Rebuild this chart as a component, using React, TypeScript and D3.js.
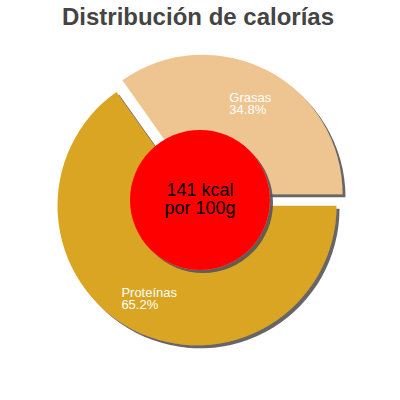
// calorie distribution pie, drawn with d3
import * as d3 from "d3";
import { useEffect, useRef } from "react";

const title = "Distribución de calorías";
const categories = ["Proteínas", "Grasas"];
const percents = [65.2, 34.8];
const colors = ["#DAA520", "#EEC591"];
const centerLines = ["141 kcal", "por 100g"];

export default function App() {
  const svgRef = useRef<SVGSVGElement>(null);

  useEffect(() => {
    document.body.style.margin = "0";
    const width = 400;
    const height = 400;
    const cx = 200;
    const cy = 200;
    const radius = 139.5;
    const explode = 6.5;
    const holeR = 70;
    const labelR = 103.5;

    const svg = d3.select(svgRef.current);
    svg.selectAll("*").remove();
    svg.attr("width", width).attr("height", height);

    // shadow filter
    const defs = svg.append("defs");
    defs
      .append("filter")
      .attr("id", "shadow")
      .attr("x", "-20%")
      .attr("y", "-20%")
      .attr("width", "140%")
      .attr("height", "140%")
      .append("feDropShadow")
      .attr("dx", 3)
      .attr("dy", 3)
      .attr("stdDeviation", 0.6)
      .attr("flood-color", "#555")
      .attr("flood-opacity", 0.9);

    // title
    svg
      .append("text")
      .attr("x", 198)
      .attr("y", 25)
      .attr("text-anchor", "middle")
      .style("font-family", "'Liberation Sans', Arial, sans-serif")
      .style("font-weight", "bold")
      .style("font-size", "24px")
      .style("fill", "#444")
      .text(title);

    // slices start at 3 o'clock and run counterclockwise
    const pie = d3
      .pie<number>()
      .sort(null)
      .startAngle(Math.PI / 2)
      .endAngle(Math.PI / 2 + 2 * Math.PI);
    const arcs = pie(percents);
    const arc = d3.arc<d3.PieArcDatum<number>>().innerRadius(0).outerRadius(radius);
    const labelArc = d3
      .arc<d3.PieArcDatum<number>>()
      .innerRadius(labelR)
      .outerRadius(labelR);

    const g = svg.append("g").attr("transform", `translate(${cx},${cy})`);

    const slices = g
      .selectAll("g.slice")
      .data(arcs)
      .enter()
      .append("g")
      .attr("class", "slice")
      .attr("transform", (d) => {
        const mid = (d.startAngle + d.endAngle) / 2;
        return `translate(${Math.sin(mid) * explode},${-Math.cos(mid) * explode})`;
      });

    slices
      .append("path")
      .attr("d", (d) => arc(d) as string)
      .style("fill", (d, i) => colors[i])
      .attr("filter", "url(#shadow)");

    // labels: left aligned block centred on the label point
    slices.each(function (d, i) {
      const [lx, ly] = labelArc.centroid(d);
      const t = d3
        .select(this)
        .append("text")
        .style("font-family", "'Liberation Sans', Arial, sans-serif")
        .style("font-size", "13px")
        .style("fill", "#fff");
      t.append("tspan").attr("x", 0).attr("y", ly - 0.5).text(categories[i]);
      t.append("tspan").attr("x", 0).attr("y", ly + 11.2).text(percents[i].toFixed(1) + "%");
      const w = (t.node() as SVGTextElement).getBBox().width;
      t.selectAll("tspan").attr("x", lx - w / 2);
    });

    // centre disc
    g.append("circle")
      .attr("r", holeR)
      .style("fill", "#FF0000")
      .attr("filter", "url(#shadow)");

    g.append("text")
      .attr("text-anchor", "middle")
      .style("font-family", "'Liberation Sans', Arial, sans-serif")
      .style("font-size", "18px")
      .style("fill", "#000")
      .selectAll("tspan")
      .data(centerLines)
      .enter()
      .append("tspan")
      .attr("x", 0)
      .attr("y", (d, i) => -4 + i * 18)
      .text((d) => d);
  }, []);

  return <svg ref={svgRef} style={{ display: "block" }} />;
}
